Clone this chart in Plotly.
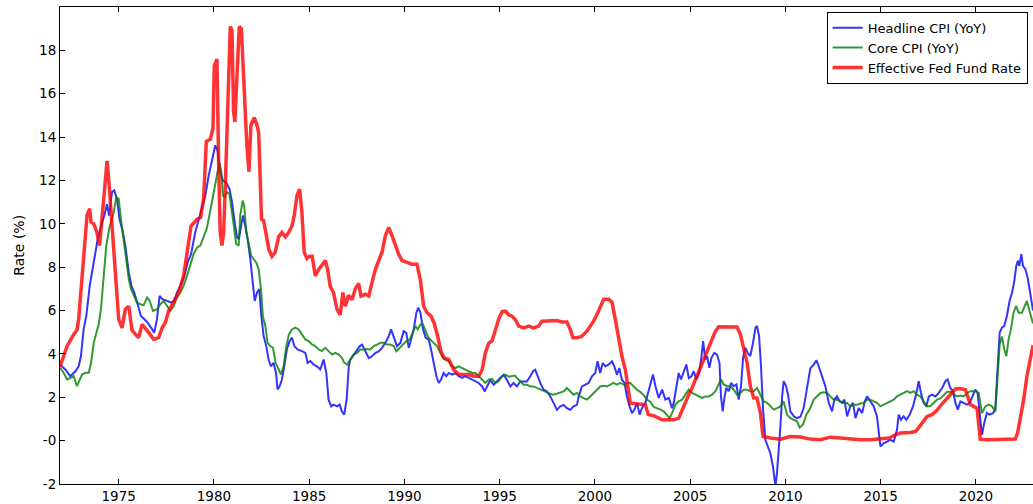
import plotly.graph_objects as go

# ---- Effective Fed Funds Rate ----
ff_x = [1971.92, 1972.29, 1972.64, 1972.81, 1972.9, 1973.03, 1973.2, 1973.34, 1973.48, 1973.55,
        1973.69, 1973.86, 1974.0, 1974.13, 1974.27, 1974.39, 1974.5, 1974.65, 1974.83, 1975.0,
        1975.18, 1975.35, 1975.53, 1975.7, 1975.88, 1976.05, 1976.23, 1976.4, 1976.58, 1976.84,
        1977.1, 1977.28, 1977.45, 1977.63, 1977.9, 1978.15, 1978.41, 1978.68, 1978.8, 1979.11,
        1979.3, 1979.46, 1979.6, 1979.81, 1979.95, 1980.02, 1980.16, 1980.25, 1980.33, 1980.42,
        1980.51, 1980.6, 1980.72, 1980.86, 1980.95, 1981.03, 1981.1, 1981.21, 1981.33, 1981.44,
        1981.52, 1981.61, 1981.73, 1981.84, 1981.94, 1982.12, 1982.26, 1982.35, 1982.43, 1982.5,
        1982.61, 1982.75, 1982.89, 1983.05, 1983.22, 1983.4, 1983.57, 1983.75, 1983.92, 1984.1,
        1984.22, 1984.36, 1984.5, 1984.62, 1984.74, 1984.88, 1985.02, 1985.16, 1985.32, 1985.5,
        1985.67, 1985.85, 1985.97, 1986.11, 1986.28, 1986.46, 1986.63, 1986.77, 1986.9, 1987.07,
        1987.25, 1987.42, 1987.6, 1987.72, 1987.95, 1988.13, 1988.3, 1988.48, 1988.65, 1988.83,
        1989.0, 1989.18, 1989.35, 1989.53, 1989.7, 1989.88, 1990.14, 1990.4, 1990.66, 1990.84,
        1991.01, 1991.19, 1991.4, 1991.57, 1991.75, 1991.92, 1992.1, 1992.33, 1992.59, 1992.85,
        1993.11, 1993.38, 1993.64, 1993.9, 1994.08, 1994.25, 1994.43, 1994.6, 1994.78, 1994.95,
        1995.13, 1995.3, 1995.48, 1995.65, 1995.82, 1996.0, 1996.26, 1996.52, 1996.78, 1997.05,
        1997.22, 1997.48, 1997.75, 1998.01, 1998.27, 1998.53, 1998.71, 1998.85, 1999.06, 1999.32,
        1999.58, 1999.76, 1999.93, 2000.11, 2000.28, 2000.46, 2000.72, 2000.9, 2001.07, 2001.25,
        2001.42, 2001.6, 2001.72, 2001.86, 2002.12, 2002.38, 2002.65, 2002.8, 2003.08, 2003.35,
        2003.53, 2003.79, 2004.14, 2004.4, 2004.58, 2004.75, 2004.93, 2005.1, 2005.28, 2005.45,
        2005.63, 2005.8, 2005.98, 2006.15, 2006.33, 2006.5, 2006.94, 2007.46, 2007.64, 2007.81,
        2007.99, 2008.16, 2008.34, 2008.51, 2008.69, 2008.83, 2009.21, 2009.74, 2010.26, 2010.79,
        2011.31, 2011.84, 2012.36, 2012.89, 2013.41, 2013.94, 2014.46, 2014.99, 2015.43, 2015.78,
        2016.04, 2016.56, 2016.83, 2017.0, 2017.18, 2017.44, 2017.7, 2017.96, 2018.23, 2018.49,
        2018.75, 2018.93, 2019.19, 2019.45, 2019.57, 2019.71, 2019.88, 2020.06, 2020.18, 2020.23,
        2020.58, 2021.11, 2021.63, 2022.07, 2022.19, 2022.33, 2022.51, 2022.68, 2022.86, 2022.95,
        2023.0]
ff_y = [3.4, 4.36, 4.9, 5.1, 5.6, 7.0, 8.4, 10.4, 10.7, 10.07,
        10.0, 9.6, 9.0, 10.2, 11.8, 12.9, 11.8, 9.9, 7.75, 5.6,
        5.2, 6.06, 6.2, 5.1, 4.9, 4.75, 5.36, 5.2, 4.98, 4.67,
        4.75, 5.2, 5.45, 6.0, 6.45, 6.83, 7.6, 9.3, 9.9, 10.2,
        10.3, 11.15, 13.8, 13.9, 14.4, 17.3, 17.6, 12.7, 9.6, 9.0,
        9.6, 11.8, 15.8, 19.1, 18.9, 15.2, 14.7, 16.7, 19.1, 19.0,
        17.3, 15.5, 13.6, 12.4, 14.55, 14.9, 14.55, 14.2, 11.8, 10.2,
        10.15, 9.45, 8.8, 8.5, 8.7, 9.4, 9.6, 9.4, 9.6, 9.9,
        10.4, 11.3, 11.6, 10.5, 8.7, 8.4, 8.5, 8.5, 7.6, 7.9,
        8.1, 8.3, 7.9, 7.1, 6.83, 6.06, 5.8, 6.83, 6.2, 6.7,
        6.5, 7.0, 7.25, 6.67, 6.75, 6.67, 7.3, 7.9, 8.3, 8.7,
        9.45, 9.83, 9.45, 9.0, 8.6, 8.3, 8.21, 8.14, 8.14, 7.4,
        6.2, 5.9, 5.74, 5.4, 4.8, 4.1, 3.8, 3.74, 3.27, 3.05,
        3.05, 3.05, 2.97, 2.97, 3.27, 4.05, 4.5, 4.6, 5.1, 5.6,
        5.95, 5.97, 5.8, 5.74, 5.59, 5.28, 5.2, 5.28, 5.2, 5.28,
        5.51, 5.51, 5.51, 5.54, 5.47, 5.47, 5.13, 4.74, 4.74, 4.82,
        5.05, 5.28, 5.51, 5.82, 6.13, 6.52, 6.52, 6.39, 5.59, 4.74,
        3.89, 3.27, 2.5, 1.73, 1.7, 1.7, 1.66, 1.2, 1.15, 1.04,
        0.96, 0.96, 0.96, 1.04, 1.43, 1.81, 2.12, 2.43, 2.82, 3.2,
        3.59, 3.97, 4.36, 4.75, 5.05, 5.25, 5.25, 5.24, 4.9, 4.2,
        3.59, 2.51, 1.97, 1.97, 1.27, 0.19, 0.12, 0.07, 0.19, 0.17,
        0.07, 0.04, 0.16, 0.12, 0.07, 0.04, 0.04, 0.07, 0.12, 0.27,
        0.35, 0.38, 0.42, 0.6, 0.81, 1.12, 1.2, 1.4, 1.7, 1.95,
        2.2, 2.38, 2.4, 2.35, 2.04, 1.66, 1.58, 1.5, 0.5, 0.07,
        0.04, 0.04, 0.04, 0.07, 0.35, 0.96, 1.89, 2.97, 3.9, 4.28,
        4.4]

# ---- Headline CPI YoY ----
cpi_x = [1971.92, 1972.2, 1972.46, 1972.73, 1972.9, 1973.02, 1973.16, 1973.3, 1973.48, 1973.6,
         1973.78, 1973.9, 1974.07, 1974.25, 1974.39, 1974.5, 1974.65, 1974.77, 1974.91, 1975.05,
         1975.18, 1975.35, 1975.53, 1975.67, 1975.82, 1976.0, 1976.17, 1976.35, 1976.52, 1976.7,
         1976.87, 1977.01, 1977.15, 1977.3, 1977.5, 1977.75, 1977.92, 1978.06, 1978.24, 1978.45,
         1978.62, 1978.8, 1979.02, 1979.2, 1979.37, 1979.55, 1979.72, 1979.9, 1980.07, 1980.19,
         1980.33, 1980.47, 1980.65, 1980.82, 1980.95, 1981.07, 1981.21, 1981.31, 1981.42, 1981.52,
         1981.65, 1981.77, 1981.91, 1982.05, 1982.14, 1982.26, 1982.38, 1982.49, 1982.61, 1982.75,
         1982.87, 1982.99, 1983.13, 1983.26, 1983.34, 1983.45, 1983.57, 1983.69, 1983.83, 1983.97,
         1984.1, 1984.22, 1984.39, 1984.62, 1984.8, 1984.92, 1985.06, 1985.23, 1985.41, 1985.58,
         1985.76, 1985.9, 1986.02, 1986.16, 1986.28, 1986.46, 1986.6, 1986.72, 1986.84, 1986.97,
         1987.08, 1987.16, 1987.34, 1987.51, 1987.66, 1987.78, 1987.95, 1988.13, 1988.3, 1988.48,
         1988.65, 1988.83, 1989.0, 1989.18, 1989.3, 1989.44, 1989.61, 1989.79, 1989.96, 1990.1,
         1990.23, 1990.35, 1990.49, 1990.63, 1990.73, 1990.84, 1990.98, 1991.12, 1991.28, 1991.4,
         1991.54, 1991.68, 1991.8, 1991.92, 1992.06, 1992.2, 1992.33, 1992.5, 1992.68, 1992.85,
         1993.03, 1993.2, 1993.38, 1993.55, 1993.73, 1993.9, 1994.08, 1994.22, 1994.34, 1994.51,
         1994.69, 1994.86, 1995.04, 1995.21, 1995.38, 1995.56, 1995.73, 1995.91, 1996.08, 1996.26,
         1996.43, 1996.61, 1996.75, 1996.87, 1997.01, 1997.13, 1997.31, 1997.48, 1997.66, 1997.83,
         1998.01, 1998.18, 1998.36, 1998.53, 1998.71, 1998.88, 1999.06, 1999.15, 1999.32, 1999.5,
         1999.67, 1999.85, 2000.02, 2000.14, 2000.28, 2000.41, 2000.55, 2000.72, 2000.9, 2001.02,
         2001.16, 2001.28, 2001.42, 2001.56, 2001.68, 2001.82, 2001.95, 2002.07, 2002.21, 2002.35,
         2002.47, 2002.65, 2002.82, 2002.95, 2003.05, 2003.18, 2003.35, 2003.53, 2003.7, 2003.88,
         2004.05, 2004.14, 2004.28, 2004.4, 2004.52, 2004.66, 2004.8, 2004.93, 2005.07, 2005.19,
         2005.33, 2005.47, 2005.59, 2005.68, 2005.8, 2005.89, 2006.01, 2006.12, 2006.27, 2006.41,
         2006.54, 2006.62, 2006.71, 2006.8, 2006.9, 2007.03, 2007.15, 2007.29, 2007.43, 2007.55,
         2007.67, 2007.78, 2007.9, 2008.02, 2008.16, 2008.3, 2008.43, 2008.51, 2008.62, 2008.72,
         2008.83, 2008.95, 2009.07, 2009.21, 2009.35, 2009.48, 2009.56, 2009.65, 2009.74, 2009.83,
         2009.91, 2010.04, 2010.14, 2010.26, 2010.44, 2010.61, 2010.79, 2010.96, 2011.14, 2011.31,
         2011.49, 2011.63, 2011.75, 2011.93, 2012.1, 2012.28, 2012.45, 2012.57, 2012.71, 2012.85,
         2012.98, 2013.1, 2013.24, 2013.41, 2013.55, 2013.68, 2013.85, 2014.03, 2014.17, 2014.29,
         2014.46, 2014.64, 2014.81, 2014.92, 2014.99, 2015.16, 2015.34, 2015.51, 2015.69, 2015.86,
         2015.95, 2016.07, 2016.21, 2016.35, 2016.53, 2016.7, 2016.88, 2017.0, 2017.12, 2017.26,
         2017.4, 2017.53, 2017.7, 2017.88, 2018.05, 2018.23, 2018.4, 2018.52, 2018.66, 2018.8,
         2018.93, 2019.05, 2019.19, 2019.36, 2019.54, 2019.68, 2019.8, 2019.97, 2020.09, 2020.2,
         2020.32, 2020.44, 2020.58, 2020.72, 2020.9, 2021.02, 2021.14, 2021.25, 2021.37, 2021.49,
         2021.63, 2021.77, 2021.9, 2022.02, 2022.12, 2022.21, 2022.28, 2022.39, 2022.47, 2022.6,
         2022.72, 2022.86, 2022.96, 2023.0]
cpi_y = [3.5, 3.28, 2.97, 3.2, 3.43, 3.9, 5.13, 5.75, 7.14, 7.76,
         8.53, 9.3, 9.9, 10.38, 10.9, 10.38, 11.46, 11.54, 11.15, 10.2,
         9.76, 8.99, 7.76, 7.14, 6.83, 6.21, 5.75, 5.6, 5.44, 5.21,
         4.98, 5.6, 6.68, 6.52, 6.44, 6.37, 6.44, 6.83, 7.14, 7.6,
         8.22, 8.6, 9.61, 10.2, 10.84, 11.3, 12.2, 13.0, 13.62, 13.39,
         12.4, 12.0, 11.9, 11.6, 11.0, 10.2, 9.38, 9.3, 9.9, 10.38,
         9.9, 9.3, 8.37, 7.29, 6.44, 6.83, 6.99, 5.75, 4.82, 4.36,
         3.74, 3.43, 3.59, 3.13, 2.36, 2.51, 2.82, 3.43, 4.21, 4.59,
         4.75, 4.36, 4.21, 4.13, 4.05, 3.59, 3.67, 3.51, 3.43, 3.28,
         3.74, 3.13, 1.89, 1.58, 1.66, 1.58, 1.66, 1.35, 1.2, 1.9,
         3.43, 3.74, 3.97, 4.2, 4.36, 4.43, 4.12, 3.81, 3.89, 4.05,
         4.12, 4.28, 4.51, 4.82, 5.13, 4.82, 4.36, 4.51, 5.05, 4.97,
         4.28, 4.66, 5.13, 5.9, 6.13, 5.9, 5.13, 4.74, 4.66, 4.2,
         3.58, 2.97, 2.66, 2.81, 3.12, 2.97, 3.12, 3.04, 3.12, 2.97,
         2.89, 2.97, 2.89, 2.81, 2.74, 2.66, 2.5, 2.27, 2.5, 2.78,
         2.58, 2.75, 2.9, 3.04, 2.81, 2.5, 2.66, 2.5, 2.73, 2.73,
         2.73, 2.97, 3.2, 3.27, 2.89, 2.66, 2.35, 2.27, 2.04, 1.73,
         1.42, 1.58, 1.65, 1.5, 1.42, 1.58, 1.65, 2.04, 2.5, 2.58,
         2.66, 2.97, 3.12, 3.66, 3.12, 3.58, 3.43, 3.5, 3.66, 3.43,
         3.04, 3.35, 2.81, 2.66, 2.04, 1.58, 1.27, 1.42, 1.73, 1.2,
         1.5, 1.73, 2.3, 2.7, 3.05, 2.51, 1.97, 2.35, 1.89, 1.97,
         1.5, 1.74, 2.59, 3.12, 2.82, 3.12, 3.51, 2.89, 2.97, 3.2,
         2.82, 3.12, 3.82, 4.59, 3.74, 3.9, 3.36, 3.82, 4.05, 3.97,
         3.59, 2.04, 1.35, 1.97, 2.43, 2.28, 2.66, 2.51, 2.59, 1.89,
         2.51, 3.82, 4.28, 4.05, 3.9, 4.51, 5.21, 5.29, 4.82, 3.43,
         1.43, 0.04, -0.27, -0.58, -1.2, -2.1, -1.5, -0.58, 0.66, 2.04,
         2.74, 2.51, 2.12, 1.35, 1.12, 1.04, 1.1, 1.5, 2.45, 3.33,
         3.51, 3.71, 3.43, 2.97, 2.51, 1.74, 1.35, 1.89, 2.04, 1.81,
         1.74, 1.89, 1.12, 1.58, 1.74, 1.04, 1.5, 1.27, 1.81, 2.04,
         1.81, 1.58, 1.12, 0.04, -0.27, -0.12, -0.04, 0.04, -0.04, 0.5,
         1.2, 0.96, 1.12, 0.96, 1.2, 1.58, 2.2, 2.74, 2.2, 1.74,
         1.58, 2.04, 2.12, 2.04, 2.2, 2.43, 2.74, 2.82, 2.43, 2.28,
         1.74, 1.43, 1.81, 1.74, 1.66, 1.74, 1.97, 2.35, 2.2, 1.12,
         0.27, 0.81, 1.27, 1.2, 1.27, 1.43, 3.28, 4.98, 5.21, 5.29,
         5.75, 6.44, 6.83, 7.37, 8.06, 8.3, 8.06, 8.6, 8.06, 7.91,
         7.52, 6.67, 6.13, 6.0]

# ---- Core CPI YoY ----
core_x = [1971.92, 1972.11, 1972.29, 1972.46, 1972.64, 1972.81, 1972.95, 1973.08, 1973.25, 1973.43,
          1973.55, 1973.69, 1973.83, 1973.95, 1974.07, 1974.21, 1974.35, 1974.5, 1974.63, 1974.74,
          1974.88, 1975.0, 1975.12, 1975.26, 1975.4, 1975.53, 1975.65, 1975.79, 1975.96, 1976.14,
          1976.31, 1976.49, 1976.63, 1976.8, 1977.01, 1977.19, 1977.36, 1977.54, 1977.71, 1977.89,
          1978.06, 1978.24, 1978.41, 1978.59, 1978.76, 1978.93, 1979.11, 1979.28, 1979.46, 1979.63,
          1979.81, 1979.95, 1980.07, 1980.19, 1980.3, 1980.39, 1980.47, 1980.56, 1980.68, 1980.81,
          1980.95, 1981.07, 1981.17, 1981.3, 1981.38, 1981.51, 1981.59, 1981.7, 1981.82, 1981.96,
          1982.08, 1982.22, 1982.35, 1982.47, 1982.57, 1982.7, 1982.82, 1982.96, 1983.1, 1983.24,
          1983.4, 1983.52, 1983.66, 1983.8, 1983.94, 1984.1, 1984.27, 1984.45, 1984.62, 1984.8,
          1984.97, 1985.15, 1985.32, 1985.5, 1985.67, 1985.85, 1986.02, 1986.2, 1986.37, 1986.55,
          1986.72, 1986.84, 1986.99, 1987.16, 1987.34, 1987.51, 1987.69, 1987.86, 1988.04, 1988.21,
          1988.39, 1988.56, 1988.74, 1988.91, 1989.09, 1989.26, 1989.44, 1989.58, 1989.75, 1989.93,
          1990.1, 1990.28, 1990.45, 1990.58, 1990.7, 1990.84, 1990.98, 1991.1, 1991.22, 1991.36,
          1991.54, 1991.71, 1991.89, 1992.03, 1992.15, 1992.33, 1992.5, 1992.68, 1992.85, 1993.03,
          1993.2, 1993.38, 1993.55, 1993.73, 1993.9, 1994.08, 1994.25, 1994.43, 1994.6, 1994.78,
          1994.95, 1995.13, 1995.3, 1995.48, 1995.65, 1995.8, 1995.91, 1996.08, 1996.26, 1996.43,
          1996.61, 1996.78, 1996.96, 1997.13, 1997.31, 1997.48, 1997.66, 1997.83, 1998.01, 1998.18,
          1998.36, 1998.53, 1998.71, 1998.88, 1999.06, 1999.23, 1999.41, 1999.58, 1999.76, 1999.93,
          2000.11, 2000.28, 2000.46, 2000.63, 2000.81, 2000.98, 2001.16, 2001.33, 2001.51, 2001.68,
          2001.86, 2002.03, 2002.21, 2002.38, 2002.56, 2002.74, 2002.91, 2003.09, 2003.26, 2003.44,
          2003.61, 2003.79, 2003.93, 2004.05, 2004.23, 2004.4, 2004.58, 2004.75, 2004.93, 2005.1,
          2005.28, 2005.45, 2005.63, 2005.8, 2005.98, 2006.15, 2006.33, 2006.5, 2006.62, 2006.76,
          2006.94, 2007.11, 2007.29, 2007.46, 2007.64, 2007.81, 2007.99, 2008.16, 2008.34, 2008.51,
          2008.69, 2008.86, 2009.04, 2009.21, 2009.39, 2009.56, 2009.74, 2009.91, 2010.09, 2010.26,
          2010.44, 2010.61, 2010.75, 2010.93, 2011.1, 2011.28, 2011.49, 2011.66, 2011.84, 2012.01,
          2012.19, 2012.36, 2012.54, 2012.71, 2012.89, 2013.06, 2013.24, 2013.41, 2013.59, 2013.76,
          2013.94, 2014.11, 2014.29, 2014.46, 2014.64, 2014.81, 2014.99, 2015.16, 2015.34, 2015.51,
          2015.69, 2015.86, 2016.04, 2016.21, 2016.39, 2016.56, 2016.74, 2016.91, 2017.09, 2017.26,
          2017.44, 2017.61, 2017.79, 2017.96, 2018.14, 2018.31, 2018.49, 2018.66, 2018.84, 2019.01,
          2019.19, 2019.36, 2019.54, 2019.71, 2019.97, 2020.15, 2020.32, 2020.5, 2020.67, 2020.85,
          2021.02, 2021.14, 2021.25, 2021.37, 2021.49, 2021.6, 2021.72, 2021.84, 2021.98, 2022.11,
          2022.25, 2022.42, 2022.56, 2022.68, 2022.82, 2022.95, 2023.0]
core_y = [3.36, 3.13, 2.82, 2.89, 2.97, 2.51, 2.82, 3.05, 3.13, 3.13,
          3.59, 4.51, 4.98, 5.36, 6.06, 7.45, 8.99, 9.76, 10.15, 10.53,
          11.23, 11.15, 10.2, 9.3, 8.37, 7.45, 6.99, 6.68, 6.37, 6.29,
          6.24, 6.6, 6.44, 5.98, 6.06, 6.29, 6.44, 6.21, 5.98, 6.21,
          6.6, 6.83, 7.14, 7.6, 8.1, 8.6, 8.9, 9.0, 9.4, 9.8,
          10.6, 11.3, 11.77, 12.39, 12.8, 12.39, 11.3, 11.23, 11.46, 11.38,
          10.53, 9.61, 9.07, 8.99, 10.38, 11.07, 10.84, 9.61, 9.15, 8.53,
          8.37, 8.22, 7.91, 6.99, 5.75, 5.29, 4.51, 4.36, 4.28, 3.59,
          3.28, 3.05, 3.43, 4.36, 4.9, 5.13, 5.21, 5.13, 4.9, 4.67,
          4.59, 4.44, 4.36, 4.21, 4.13, 4.28, 4.13, 3.97, 4.05, 3.97,
          3.82, 3.6, 3.51, 3.74, 3.97, 4.05, 4.2, 4.2, 4.23, 4.2,
          4.36, 4.43, 4.51, 4.51, 4.43, 4.43, 4.36, 4.12, 4.28, 4.43,
          4.59, 4.66, 4.97, 5.28, 5.13, 5.36, 5.36, 5.05, 4.82, 4.66,
          4.51, 4.36, 4.05, 3.81, 3.74, 3.66, 3.43, 3.35, 3.43, 3.35,
          3.27, 3.2, 3.12, 3.12, 2.97, 2.81, 2.66, 2.81, 2.85, 2.66,
          2.75, 2.97, 3.04, 2.95, 2.97, 3.0, 2.89, 2.73, 2.58, 2.58,
          2.5, 2.5, 2.43, 2.35, 2.27, 2.2, 2.16, 2.12, 2.16, 2.2,
          2.27, 2.43, 2.27, 2.12, 2.2, 2.04, 1.96, 1.89, 2.04, 2.2,
          2.35, 2.5, 2.53, 2.5, 2.58, 2.66, 2.58, 2.66, 2.58, 2.66,
          2.66, 2.5, 2.35, 2.25, 2.1, 1.9, 1.78, 1.55, 1.5, 1.43,
          1.35, 1.2, 1.04, 1.27, 1.66, 1.81, 1.89, 2.12, 2.35, 2.2,
          2.12, 2.04, 1.97, 2.04, 2.04, 2.12, 2.28, 2.59, 2.82, 2.59,
          2.51, 2.51, 2.35, 2.12, 2.2, 2.35, 2.35, 2.28, 2.28, 2.43,
          2.12, 1.81, 1.74, 1.58, 1.43, 1.5, 1.58, 1.81, 1.2, 1.04,
          0.96, 0.89, 0.6, 0.75, 1.2, 1.45, 1.89, 2.04, 2.2, 2.23,
          2.2, 2.04, 1.89, 1.89, 1.81, 1.74, 1.74, 1.58, 1.66, 1.66,
          1.71, 1.74, 1.89, 1.89, 1.81, 1.74, 1.58, 1.66, 1.74, 1.81,
          1.89, 2.04, 2.12, 2.23, 2.28, 2.2, 2.28, 2.12, 2.04, 1.81,
          1.58, 1.6, 1.75, 1.89, 1.95, 2.12, 2.25, 2.25, 2.12, 2.04,
          2.08, 2.04, 2.2, 2.28, 2.28, 2.2, 1.27, 1.58, 1.66, 1.58,
          1.35, 2.82, 4.44, 4.8, 4.21, 3.9, 4.67, 5.13, 5.9, 6.21,
          5.9, 5.9, 6.21, 6.44, 5.98, 5.52, 5.4]

x_ticks = [1975, 1980, 1985, 1990, 1995, 2000, 2005, 2010, 2015, 2020]
x_ticklabels = ["1975", "1980", "1985", "1990", "1995", "2000", "2005", "2010", "2015", "2020"]
y_ticks = [-2, 0, 2, 4, 6, 8, 10, 12, 14, 16, 18]
y_ticklabels = ["-2", "-0", "2", "4", "6", "8", "10", "12", "14", "16", "18"]

FONT = "DejaVu Sans"

fig = go.Figure()
fig.add_trace(go.Scatter(x=cpi_x, y=cpi_y, mode="lines", name="Headline CPI (YoY)",
                         line=dict(color="rgba(0,0,255,0.8)", width=2)))
fig.add_trace(go.Scatter(x=core_x, y=core_y, mode="lines", name="Core CPI (YoY)",
                         line=dict(color="rgba(0,128,0,0.8)", width=2)))
fig.add_trace(go.Scatter(x=ff_x, y=ff_y, mode="lines", name="Effective Fed Fund Rate",
                         line=dict(color="rgba(255,0,0,0.8)", width=3.5)))

fig.update_layout(
    width=1033, height=504,
    margin=dict(l=60, r=0, t=7, b=20, autoexpand=False),
    paper_bgcolor="white", plot_bgcolor="white",
    font=dict(family=FONT, size=13, color="black"),
    showlegend=True,
    legend=dict(x=0.9945, y=0.99, xanchor="right", yanchor="top",
                bgcolor="white", bordercolor="black", borderwidth=1,
                font=dict(family=FONT, size=13, color="black"),
                tracegroupgap=0, itemwidth=30),
    xaxis=dict(range=[1971.92, 2023.0], tickmode="array", tickvals=x_ticks, ticktext=x_ticklabels,
               ticks="inside", ticklen=5, tickcolor="black", showline=True, linecolor="black",
               linewidth=1, mirror="ticks", showgrid=False, zeroline=False,
               tickfont=dict(family=FONT, size=13.5, color="black")),
    yaxis=dict(range=[-2, 20], tickmode="array", tickvals=y_ticks, ticktext=y_ticklabels,
               ticks="inside", ticklen=5, tickcolor="black", showline=True, linecolor="black",
               linewidth=1, mirror=False, showgrid=False, zeroline=False,
               tickfont=dict(family=FONT, size=13.5, color="black")),
    annotations=[dict(text="Rate (%)", textangle=-90, xref="paper", yref="paper",
                      x=-0.043, y=0.5, xanchor="center", yanchor="middle", showarrow=False,
                      font=dict(family=FONT, size=14, color="black"))],
)

fig.write_html("out.html", config={"displayModeBar": False},
               post_script="document.body.style.margin='0';document.body.style.overflow='hidden';")
